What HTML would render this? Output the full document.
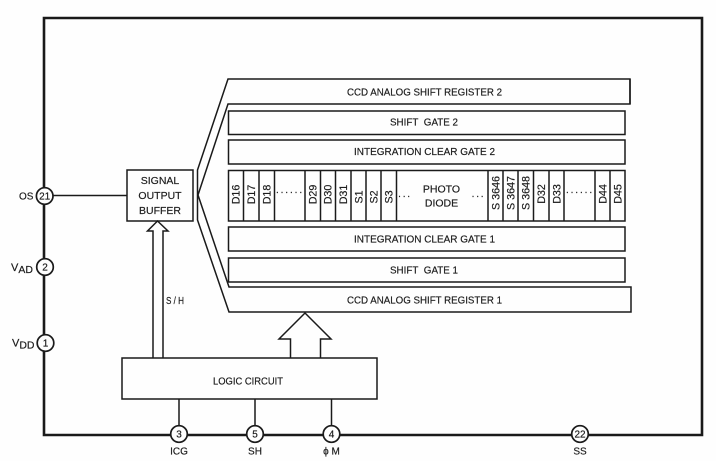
<!DOCTYPE html>
<html>
<head>
<meta charset="utf-8">
<style>
html,body{margin:0;padding:0;background:#fff;}
svg{display:block;}
text{font-family:"Liberation Sans",sans-serif;font-size:10px;fill:#1c1c1c;stroke:#1c1c1c;stroke-width:.18px;}
.m{text-anchor:middle;}
.v{text-anchor:middle;font-size:10.700px;}
.b{font-size:10.500px;text-anchor:middle;}
</style>
</head>
<body>
<svg width="716" height="461" viewBox="0 0 716 461" xmlns="http://www.w3.org/2000/svg">
<rect width="716" height="461" fill="#fefefe"/>
<g fill="none" stroke="#1a1a1a">
<path d="M44 18H702V435H44Z" stroke-width="2.600"/>
<g stroke-width="1.500">
<path d="M630 79H228L197.500 170V220L229 312H631V287H229L198 195L228 104H630Z"/>
<path d="M630 79V104"/>
<rect x="228.500" y="111" width="396.500" height="23.500" fill="#fefefe"/>
<rect x="228.500" y="140" width="396.500" height="24"/>
<rect x="228.500" y="170.500" width="396.500" height="50.500"/>
<rect x="228.500" y="227" width="396.500" height="24"/>
<rect x="228.500" y="258" width="396.500" height="24" fill="#fefefe"/>
<path d="M243.500 170V221M259 170V221M274.500 170V221M305 170V221M320.500 170V221M335.500 170V221M351 170V221M366 170V221M381 170V221M396.500 170V221M488 170V221M503 170V221M518 170V221M533.500 170V221M549 170V221M564 170V221M595 170V221M610 170V221"/>
<rect x="127" y="170" width="66" height="51"/>
<path d="M53 195.500H127"/>
<path d="M153 358V231H147.500L157.500 221L168 231H163V358"/>
<rect x="122" y="358" width="255" height="41"/>
<path d="M290.500 358V339H279L305 313L331 339H320.500V358"/>
<path d="M179 399V426M255 399V426M331.500 399V426"/>
</g>
<g fill="#fefefe" stroke-width="1.700">
<circle cx="44.700" cy="196" r="8.300"/>
<circle cx="45" cy="267" r="8.300"/>
<circle cx="45.500" cy="343" r="8.300"/>
<circle cx="179" cy="434" r="8.300"/>
<circle cx="255" cy="434" r="8.300"/>
<circle cx="331.500" cy="434" r="8.300"/>
<circle cx="580" cy="434" r="8.300"/>
</g>
</g>

<text x="347" y="95.500" textLength="155" lengthAdjust="spacingAndGlyphs">CCD ANALOG SHIFT REGISTER 2</text>
<text x="390" y="125.500" textLength="68" lengthAdjust="spacingAndGlyphs">SHIFT&#160; GATE 2</text>
<text x="354" y="155" textLength="141" lengthAdjust="spacingAndGlyphs">INTEGRATION CLEAR GATE 2</text>
<text x="354" y="242.500" textLength="141" lengthAdjust="spacingAndGlyphs">INTEGRATION CLEAR GATE 1</text>
<text x="390" y="273.500" textLength="68" lengthAdjust="spacingAndGlyphs">SHIFT&#160; GATE 1</text>
<text x="347" y="303.500" textLength="155" lengthAdjust="spacingAndGlyphs">CCD ANALOG SHIFT REGISTER 1</text>

<text class="b" x="441.500" y="192.500">PHOTO</text>
<text class="b" x="441.500" y="206.500">DIODE</text>

<text class="b" x="160" y="184">SIGNAL</text>
<text class="b" x="160" y="199">OUTPUT</text>
<text class="b" x="160" y="214">BUFFER</text>
<text x="166" y="304" textLength="18" lengthAdjust="spacingAndGlyphs">S / H</text>
<text x="213" y="384.500" textLength="70" lengthAdjust="spacingAndGlyphs">LOGIC CIRCUIT</text>

<text x="19" y="199.500">OS</text>
<text x="11" y="271" font-size="11" style="font-size:11px">V<tspan style="font-size:10.500px" dy="2">AD</tspan></text>
<text x="12" y="346.500" style="font-size:11px">V<tspan style="font-size:10.500px" dy="2">DD</tspan></text>
<text class="m" x="44.700" y="199.500">21</text>
<text class="m" x="45" y="270.500">2</text>
<text class="m" x="45.500" y="346.500">1</text>
<text class="m" x="179" y="437.500">3</text>
<text class="m" x="255" y="437.500">5</text>
<text class="m" x="331.500" y="437.500">4</text>
<text class="m" x="580" y="437.500">22</text>
<text class="m" x="179" y="454.500">ICG</text>
<text class="m" x="255" y="454.500">SH</text>
<text class="m" x="331.500" y="454.500">&#981; M</text>
<text class="m" x="580" y="454.500">SS</text>

<text class="v" transform="translate(239.500,194.500) rotate(-90)">D16</text>
<text class="v" transform="translate(255,194.500) rotate(-90)">D17</text>
<text class="v" transform="translate(270.500,194.500) rotate(-90)">D18</text>
<text class="v" transform="translate(316.500,194.500) rotate(-90)">D29</text>
<text class="v" transform="translate(331.500,194.500) rotate(-90)">D30</text>
<text class="v" transform="translate(347,194.500) rotate(-90)">D31</text>
<text class="v" transform="translate(362.500,197) rotate(-90)">S1</text>
<text class="v" transform="translate(377.500,197) rotate(-90)">S2</text>
<text class="v" transform="translate(392.500,197) rotate(-90)">S3</text>
<text class="v" transform="translate(499.500,193) rotate(-90)">S 3646</text>
<text class="v" transform="translate(514.500,193) rotate(-90)">S 3647</text>
<text class="v" transform="translate(529.500,193) rotate(-90)">S 3648</text>
<text class="v" transform="translate(545,194) rotate(-90)">D32</text>
<text class="v" transform="translate(560.500,194) rotate(-90)">D33</text>
<text class="v" transform="translate(606.500,194) rotate(-90)">D44</text>
<text class="v" transform="translate(621.500,194) rotate(-90)">D45</text>

<text class="m" x="290" y="193" letter-spacing="1.900">......</text>
<text class="m" x="405" y="197" letter-spacing="1.800">...</text>
<text class="m" x="478.500" y="197" letter-spacing="1.800">...</text>
<text class="m" x="580" y="193" letter-spacing="1.900">......</text>
</svg>
</body>
</html>
